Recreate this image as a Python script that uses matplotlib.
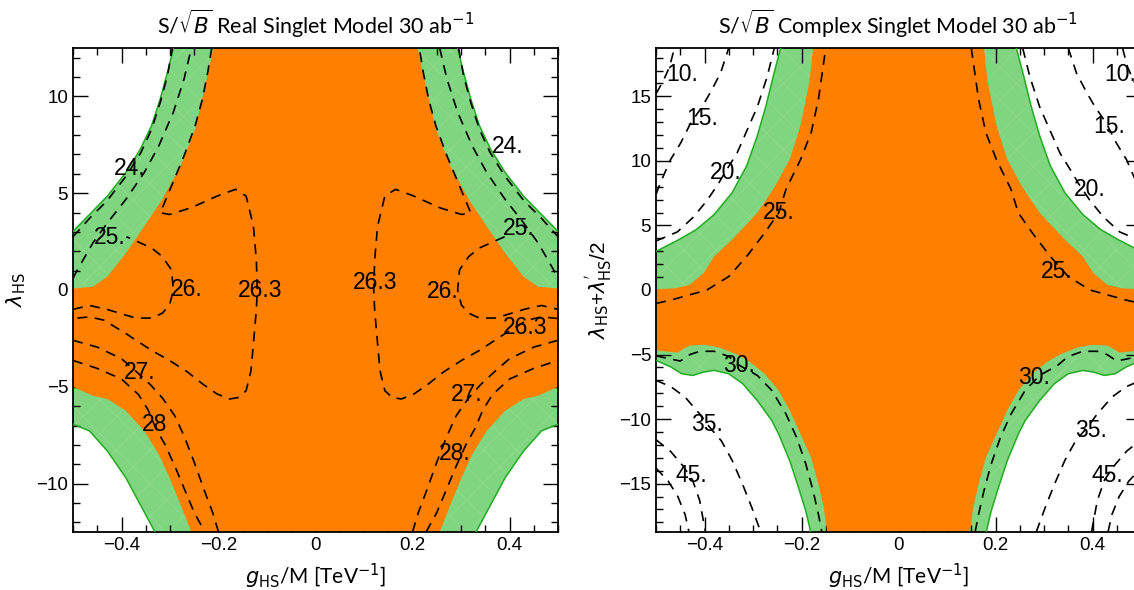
import matplotlib.pyplot as plt
from matplotlib.patches import Polygon
from matplotlib.ticker import MultipleLocator

plt.rcParams['font.family'] = ['Liberation Sans', 'DejaVu Sans']
plt.rcParams['mathtext.fontset'] = 'dejavusans'
plt.rcParams['hatch.linewidth'] = 0.6

ORANGE = '#ff8000'
GREEN_FILL = '#80d580'
GREEN_LINE = '#22aa22'
LABEL_FONT = ['Lato', 'DejaVu Sans']

# ---- real singlet model (left half, x <= 0; the plot is mirror symmetric) ----
real_orange_top = [(-0.2105, 12.5), (-0.2256, 10.75), (-0.248, 8.32), (-0.278, 6.41),
                   (-0.316, 4.68), (-0.353, 3.29), (-0.391, 1.9), (-0.429, 0.69),
                   (-0.459, 0.17), (-0.5, 0.08)]
real_orange_bottom = [(-0.5, -5.0), (-0.459, -5.46), (-0.429, -5.63), (-0.391, -6.24),
                      (-0.353, -7.28), (-0.323, -8.49), (-0.301, -9.7), (-0.278, -11.1),
                      (-0.256, -12.5)]
real_green_top = [(-0.293, 12.5), (-0.305, 11.27), (-0.32, 9.88), (-0.338, 8.49),
                  (-0.361, 7.28), (-0.391, 6.07), (-0.429, 4.85), (-0.466, 3.9),
                  (-0.5, 3.03)]
real_green_bottom = [(-0.5, -6.93), (-0.466, -7.28), (-0.429, -8.32), (-0.391, -9.7),
                     (-0.361, -11.1), (-0.331, -12.5)]

real_contours = {
    '24': [(-0.5, 2.75), (-0.466, 3.7), (-0.43, 4.6), (-0.39, 5.9), (-0.36, 7.1),
           (-0.338, 8.3), (-0.32, 9.7), (-0.305, 11.1), (-0.295, 12.5)],
    '25': [(-0.5, 0.6), (-0.493, 0.95), (-0.459, 2.43), (-0.429, 3.47), (-0.391, 4.68),
           (-0.353, 6.07), (-0.323, 7.45), (-0.293, 9.19), (-0.271, 10.9), (-0.256, 12.5)],
    '26': [(-0.5, -1.0), (-0.466, -0.8), (-0.43, -1.0), (-0.391, -1.3), (-0.37, -1.45),
           (-0.338, -1.45), (-0.316, -1.2), (-0.301, -0.78), (-0.293, 0.0), (-0.297, 1.04),
           (-0.316, 1.73), (-0.338, 2.17), (-0.368, 2.51), (-0.39, 2.75)],
    '26.3': [(-0.214, 12.5), (-0.222, 11.27), (-0.233, 9.88), (-0.248, 8.49),
             (-0.271, 6.93), (-0.297, 5.37), (-0.32, 3.99), (-0.301, 3.9), (-0.256, 4.25),
             (-0.203, 4.85), (-0.165, 5.2), (-0.143, 4.85), (-0.128, 3.3), (-0.122, 1.56),
             (-0.12, 0.0), (-0.122, -1.04), (-0.128, -2.77), (-0.133, -4.16),
             (-0.143, -5.2), (-0.158, -5.55), (-0.177, -5.63), (-0.203, -5.37),
             (-0.233, -4.85), (-0.263, -4.25), (-0.301, -3.64), (-0.338, -3.12),
             (-0.391, -2.25), (-0.436, -1.56), (-0.466, -1.39), (-0.5, -1.47)],
    '27': [(-0.5, -2.6), (-0.45, -2.95), (-0.4, -3.55), (-0.37, -4.2), (-0.34, -4.9),
           (-0.315, -5.6), (-0.29, -6.5), (-0.27, -7.6), (-0.25, -8.9), (-0.23, -10.3),
           (-0.212, -11.5), (-0.2, -12.5)],
    '28': [(-0.5, -3.64), (-0.45, -4.05), (-0.4, -4.6), (-0.365, -5.4), (-0.345, -6.2),
           (-0.33, -7.1), (-0.31, -8.0), (-0.29, -9.1), (-0.27, -10.3), (-0.25, -11.5),
           (-0.228, -12.5)],
}
real_labels = [('24.', -0.383, 6.3), ('24.', 0.397, 7.4), ('25.', -0.424, 2.69),
               ('25.', 0.42, 3.2), ('26.', -0.265, 0.0), ('26.', 0.263, -0.1),
               ('26.3', -0.114, -0.05), ('26.3', 0.122, 0.4), ('26.3', 0.432, -1.96),
               ('27.', -0.362, -4.24), ('27.', 0.312, -5.42), ('28', -0.331, -6.97),
               ('28.', 0.288, -8.42)]

# ---- complex singlet model (left half) ----
cplx_orange_top = [(-0.176, 18.75), (-0.184, 16.1), (-0.202, 12.74), (-0.224, 10.14),
                   (-0.254, 8.06), (-0.291, 5.98), (-0.343, 3.9), (-0.38, 2.6),
                   (-0.402, 1.3), (-0.431, 0.39), (-0.461, 0.13), (-0.5, 0.05)]
cplx_orange_bottom = [(-0.5, -4.68), (-0.469, -4.8), (-0.455, -4.85), (-0.443, -4.55),
                      (-0.43, -4.3), (-0.4, -4.25), (-0.37, -4.45), (-0.336, -4.94),
                      (-0.306, -5.58), (-0.276, -6.49), (-0.247, -7.79), (-0.224, -9.35),
                      (-0.202, -11.17), (-0.18, -12.99), (-0.165, -15.06),
                      (-0.154, -16.88), (-0.147, -18.75)]
cplx_green_top = [(-0.243, 18.75), (-0.258, 16.6), (-0.273, 14.3), (-0.291, 11.96),
                  (-0.313, 9.62), (-0.343, 7.54), (-0.38, 5.85), (-0.417, 4.68),
                  (-0.453, 3.9), (-0.5, 2.99)]
cplx_green_bottom = [(-0.5, -5.45), (-0.469, -5.97), (-0.447, -6.49), (-0.424, -6.62),
                     (-0.402, -6.36), (-0.38, -6.23), (-0.35, -6.49), (-0.321, -7.27),
                     (-0.291, -8.57), (-0.261, -10.13), (-0.247, -11.17),
                     (-0.224, -13.25), (-0.206, -15.32), (-0.191, -17.14),
                     (-0.181, -18.75)]

cplx_contours = {
    '10': [(-0.5, 15.2), (-0.485, 16.2), (-0.472, 17.3), (-0.462, 18.75)],
    '15': [(-0.5, 7.4), (-0.491, 8.3), (-0.47, 10.1), (-0.449, 11.4), (-0.429, 12.9),
           (-0.405, 14.2), (-0.388, 15.3), (-0.367, 16.8), (-0.35, 18.75)],
    '20': [(-0.5, 3.8), (-0.456, 4.5), (-0.422, 5.68), (-0.394, 6.98), (-0.372, 8.2),
           (-0.353, 9.4), (-0.333, 10.6), (-0.312, 12.4), (-0.291, 14.2),
           (-0.271, 16.5), (-0.256, 18.75)],
    '25': [(-0.5, -1.04), (-0.469, -0.78), (-0.432, -0.39), (-0.395, 0.0),
           (-0.35, 1.04), (-0.313, 2.6), (-0.276, 4.42), (-0.247, 5.98), (-0.232, 7.8),
           (-0.202, 10.1), (-0.18, 12.2), (-0.165, 14.8), (-0.15, 18.75)],
    '30': [(-0.5, -5.1), (-0.47, -5.35), (-0.45, -5.5), (-0.43, -5.0), (-0.41, -4.75),
           (-0.38, -4.75), (-0.35, -5.15), (-0.328, -5.84), (-0.291, -6.62),
           (-0.261, -7.79), (-0.232, -9.61), (-0.21, -11.43), (-0.191, -13.5),
           (-0.176, -15.58), (-0.165, -17.4), (-0.158, -18.75)],
    '35': [(-0.5, -7.0), (-0.469, -7.5), (-0.44, -8.3), (-0.41, -9.6), (-0.39, -10.6),
           (-0.365, -11.7), (-0.343, -13.2), (-0.321, -15.1), (-0.302, -16.9),
           (-0.284, -18.75)],
    '45': [(-0.5, -11.6), (-0.47, -12.5), (-0.445, -13.6), (-0.425, -14.7),
           (-0.41, -16.3), (-0.398, -18.75)],
    '50': [(-0.5, -13.8), (-0.475, -14.8), (-0.455, -16.0), (-0.44, -17.4),
           (-0.432, -18.75)],
}
cplx_labels = [('10.', -0.445, 16.7), ('10.', 0.458, 16.7), ('15.', -0.405, 13.3),
               ('15.', 0.435, 12.7), ('20.', -0.357, 9.07), ('20.', 0.394, 7.8),
               ('25.', -0.247, 5.98), ('25.', 0.327, 1.43), ('30.', -0.328, -5.84),
               ('30.', 0.279, -6.75), ('35.', -0.395, -10.4), ('35.', 0.398, -10.9),
               ('45.', -0.428, -14.4), ('45.', 0.431, -14.4)]


def mirror(pts):
    return [(-x, y) for x, y in reversed(pts)]


def draw_panel(ax, orange_top, orange_bottom, green_top, green_bottom,
               contours, labels, ylim):
    # green band first, orange core over it
    half = green_top + green_bottom
    green = Polygon(half + mirror(half), closed=True, facecolor=GREEN_FILL,
                    edgecolor='none', zorder=1)
    ax.add_patch(green)
    ax.add_patch(Polygon(half + mirror(half), closed=True, facecolor='none',
                         edgecolor='#8edb8e', lw=0, hatch='x', zorder=1.1))
    half = orange_top + orange_bottom
    ax.add_patch(Polygon(half + mirror(half), closed=True, facecolor=ORANGE,
                         edgecolor='none', zorder=2))

    for edge in (green_top, green_bottom):
        for pts in (edge, mirror(edge)):
            ax.plot([p[0] for p in pts], [p[1] for p in pts], color=GREEN_LINE,
                    lw=1.1, zorder=3)

    for name, pts in contours.items():
        for line in (pts, mirror(pts)):
            ax.plot([p[0] for p in line], [p[1] for p in line], color='black',
                    lw=1.2, ls=(0, (6, 4.5)), zorder=4)

    for text, x, y in labels:
        ax.text(x, y, text, fontsize=16.5, ha='center', va='center', zorder=5)

    ax.set_xlim(-0.5, 0.5)
    ax.set_ylim(-ylim, ylim)
    ax.xaxis.set_major_locator(MultipleLocator(0.2))
    ax.xaxis.set_minor_locator(MultipleLocator(0.05))
    ax.yaxis.set_major_locator(MultipleLocator(5))
    ax.yaxis.set_minor_locator(MultipleLocator(1))
    ax.tick_params(which='both', direction='in', top=True, right=True,
                   labelsize=13.5, width=1.0)
    ax.tick_params(which='major', length=11)
    ax.tick_params(which='minor', length=5)
    ax.set_xticks([-0.4, -0.2, 0, 0.2, 0.4])
    ax.set_xticklabels(['\u22120.4', '\u22120.2', '0', '0.2', '0.4'])
    for s in ax.spines.values():
        s.set_linewidth(1.3)
    ax.set_xlabel(r'$g_{\rm HS}$/M [TeV$^{-1}$]', fontsize=15, family=LABEL_FONT,
                  labelpad=6)


fig = plt.figure(figsize=(11.34, 5.9), dpi=100)
W, H = 1134, 590
ax1 = fig.add_axes([73 / W, 1 - 532 / H, 485 / W, 484 / H])
ax2 = fig.add_axes([656 / W, 1 - 532 / H, 485 / W, 484 / H])

draw_panel(ax1, real_orange_top, real_orange_bottom, real_green_top,
           real_green_bottom, real_contours, real_labels, 12.5)
draw_panel(ax2, cplx_orange_top, cplx_orange_bottom, cplx_green_top,
           cplx_green_bottom, cplx_contours, cplx_labels, 18.75)

ax1.set_ylabel(r'$\lambda_{\rm HS}$', fontsize=15, labelpad=6)
ax2.set_ylabel(r"$\lambda_{\rm HS}$+$\lambda_{\rm HS}^{'}$/2", fontsize=15, labelpad=4)
ax1.set_title(r'S/$\sqrt{B}$ Real Singlet Model 30 ab$^{-1}$', fontsize=15.5,
              family=LABEL_FONT, pad=10)
ax2.set_title(r'S/$\sqrt{B}$ Complex Singlet Model 30 ab$^{-1}$', fontsize=15.5,
              family=LABEL_FONT, pad=10)

fig.savefig('out.png', dpi=100)
